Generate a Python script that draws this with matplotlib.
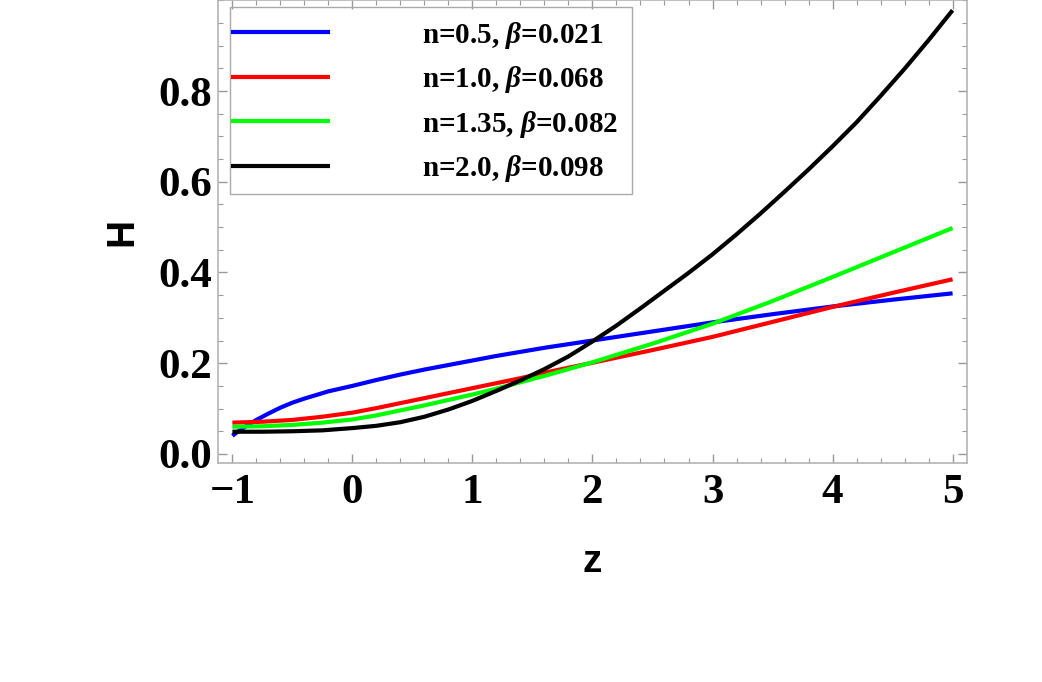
import matplotlib.pyplot as plt
from matplotlib.patches import Rectangle
from matplotlib.ticker import MultipleLocator

plt.rcParams["font.family"] = ["Liberation Serif", "DejaVu Serif"]
plt.rcParams["mathtext.fontset"] = "custom"
plt.rcParams["mathtext.rm"] = "Liberation Serif:bold"
plt.rcParams["mathtext.it"] = "Liberation Serif:italic:bold"
plt.rcParams["mathtext.bf"] = "Liberation Serif:bold"

# data
z_blue = [-1, -0.95, -0.9, -0.8, -0.7, -0.6, -0.5, -0.4, -0.3, -0.2, -0.1, 0, 0.2, 0.4, 0.6, 0.8,
          1.0, 1.2, 1.4, 1.6, 1.8, 2.0, 2.5, 3.0, 3.5, 4.0, 4.5, 5.0]
h_blue = [0.040, 0.050, 0.059, 0.075, 0.089, 0.102, 0.113, 0.122, 0.130, 0.138, 0.144, 0.150,
          0.163, 0.175, 0.186, 0.196, 0.206, 0.216, 0.225, 0.234, 0.242, 0.250, 0.270, 0.290,
          0.308, 0.325, 0.340, 0.354]

z_red = [-1, -0.75, -0.5, -0.25, 0, 0.2, 0.4, 0.6, 0.8, 1.0, 1.2, 1.4, 1.6, 1.8, 2.0, 2.5, 3.0,
         3.5, 4.0, 4.5, 5.0]
h_red = [0.069, 0.071, 0.075, 0.082, 0.091, 0.101, 0.112, 0.123, 0.134, 0.145, 0.156, 0.167,
         0.179, 0.190, 0.201, 0.229, 0.258, 0.291, 0.324, 0.355, 0.385]

z_green = [-1, -0.75, -0.5, -0.25, 0, 0.2, 0.4, 0.6, 0.8, 1.0, 1.2, 1.4, 1.6, 1.8, 2.0, 2.5, 3.0,
           3.5, 4.0, 4.5, 5.0]
h_green = [0.060, 0.061, 0.064, 0.069, 0.076, 0.085, 0.096, 0.107, 0.119, 0.131, 0.144, 0.158,
           0.172, 0.187, 0.202, 0.243, 0.287, 0.337, 0.390, 0.444, 0.498]

z_black = [-1, -0.75, -0.5, -0.25, 0, 0.2, 0.4, 0.6, 0.8, 1.0, 1.2, 1.4, 1.6, 1.8, 2.0, 2.2, 2.4,
           2.6, 2.8, 3.0, 3.2, 3.4, 3.6, 3.8, 4.0, 4.2, 4.4, 4.6, 4.8, 5.0]
h_black = [0.049, 0.049, 0.050, 0.052, 0.057, 0.062, 0.070, 0.082, 0.098, 0.117, 0.139, 0.162,
           0.187, 0.215, 0.248, 0.283, 0.321, 0.360, 0.399, 0.440, 0.484, 0.530, 0.578, 0.627,
           0.678, 0.731, 0.789, 0.849, 0.912, 0.978]

labels = ["n=0.5, $\\beta$=0.021", "n=1.0, $\\beta$=0.068",
          "n=1.35, $\\beta$=0.082", "n=2.0, $\\beta$=0.098"]
colors = ["#0000ff", "#ff0000", "#00ff00", "#000000"]

fig = plt.figure(figsize=(10.42, 6.82), dpi=100)
ax = fig.add_axes([0.2092, 0.3211, 0.7188, 0.6785])

series = [(z_blue, h_blue), (z_red, h_red), (z_green, h_green), (z_black, h_black)]
handles = []
for (zz, hh), c, lab in zip(series, colors, labels):
    ln, = ax.plot(zz, hh, color=c, lw=3, label=lab, solid_capstyle="butt",
                  solid_joinstyle="round")
    handles.append(ln)

ax.set_xlim(-1.12, 5.12)
ax.set_ylim(-0.02, 1.0)
ax.xaxis.set_major_locator(MultipleLocator(1))
ax.xaxis.set_minor_locator(MultipleLocator(0.2))
ax.yaxis.set_minor_locator(MultipleLocator(0.05))
ax.set_yticks([0.0, 0.2, 0.4, 0.6, 0.8])
ax.set_yticklabels(["0.0", "0.2", "0.4", "0.6", "0.8"])

ax.tick_params(which="both", direction="in", top=True, right=True, color="#999999")
ax.tick_params(which="major", length=6.5, width=1)
ax.tick_params(which="minor", length=3.5, width=0.8)
ax.tick_params(axis="x", which="major", pad=8, labelsize=31)
ax.tick_params(axis="y", which="major", pad=4, labelsize=31)
for lab in ax.get_xticklabels() + ax.get_yticklabels():
    lab.set_fontweight("bold")
for sp in ax.spines.values():
    sp.set_color("#b4b4b4")
    sp.set_linewidth(1.2)

ax.set_xlabel("z", family="Liberation Sans", fontweight="bold", fontsize=28, labelpad=23)
ax.set_ylabel("H", family="Liberation Sans", fontweight="bold", fontsize=28, labelpad=13)

# legend box
ax.add_patch(Rectangle((0.016, 0.581), 0.537, 0.404, transform=ax.transAxes,
                       fill=False, edgecolor="#aaaaaa", lw=1, zorder=5))
leg = ax.legend(handles=handles, loc="upper left", bbox_to_anchor=(0.017, 0.958),
                frameon=False, borderpad=0, borderaxespad=0, handlelength=3.4,
                handletextpad=3.15, labelspacing=0.46,
                prop={"family": "Liberation Serif", "weight": "bold", "size": 21})

fig.savefig("out.png", dpi=100)
